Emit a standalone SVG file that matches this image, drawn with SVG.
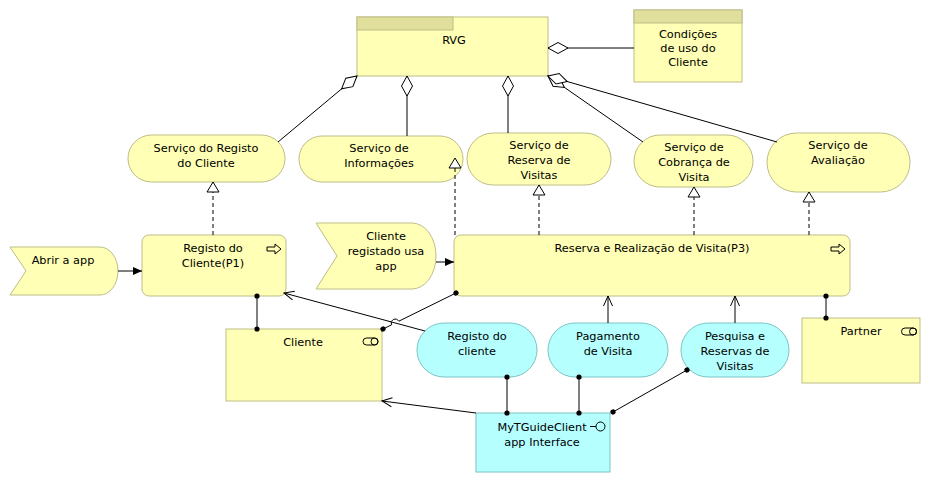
<svg xmlns="http://www.w3.org/2000/svg" width="931" height="483" viewBox="0 0 931 483">
<style>
  .biz { fill: #ffffb5; stroke: #bdbd88; stroke-width: 1; }
  .tab { fill: #e0e09c; stroke: #bdbd88; stroke-width: 1; }
  .app { fill: #b5ffff; stroke: #7cc4c4; stroke-width: 1; }
  text { font-family: "DejaVu Sans", "Liberation Sans", sans-serif; font-size: 11.3px; fill: #000; text-anchor: middle; }
  .icon { fill: none; stroke: #000; stroke-width: 1; }
  .ln { fill: none; stroke: #000; stroke-width: 1; }
  .dash { stroke-dasharray: 4 3; }
  .agg { marker-start: url(#diamond); }
  .real { marker-end: url(#hollowTri); }
  .trig { marker-end: url(#filledArrow); }
  .open { marker-end: url(#openArrow); }
  .dots { marker-start: url(#dot); marker-end: url(#dot); }
</style>
<defs>
  <marker id="diamond" markerUnits="userSpaceOnUse" markerWidth="22" markerHeight="13" refX="1" refY="6" orient="auto" overflow="visible">
    <path d="M1,6 L11,0.5 L21,6 L11,11.5 Z" fill="#fff" stroke="#000" stroke-width="1"/>
  </marker>
  <marker id="hollowTri" markerUnits="userSpaceOnUse" markerWidth="12" markerHeight="14" refX="11" refY="7" orient="auto" overflow="visible">
    <path d="M1,1 L11,7 L1,13 Z" fill="#fff" stroke="#000" stroke-width="1"/>
  </marker>
  <marker id="filledArrow" markerUnits="userSpaceOnUse" markerWidth="10" markerHeight="10" refX="9" refY="5" orient="auto" overflow="visible">
    <path d="M0,1 L9,5 L0,9 Z" fill="#000"/>
  </marker>
  <marker id="openArrow" markerUnits="userSpaceOnUse" markerWidth="12" markerHeight="10" refX="10" refY="5" orient="auto" overflow="visible">
    <path d="M0,0.5 L10,5 L0,9.5" fill="none" stroke="#000" stroke-width="1"/>
  </marker>
  <marker id="dot" markerUnits="userSpaceOnUse" markerWidth="6" markerHeight="6" refX="3" refY="3" orient="auto" overflow="visible">
    <circle cx="3" cy="3" r="2.6" fill="#000"/>
  </marker>
</defs>

<g id="rvg">
  <rect class="biz" x="357" y="17" width="191" height="59"/>
  <rect class="tab" x="357" y="17" width="96" height="13"/>
  <text x="454" y="44">RVG</text>
</g>

<g id="condicoes">
  <rect class="biz" x="634" y="10" width="108" height="72"/>
  <rect class="tab" x="634" y="10" width="108" height="13"/>
  <text x="688" y="38">Condições</text>
  <text x="688" y="52">de uso do</text>
  <text x="688" y="66">Cliente</text>
</g>

<g id="svc-registo">
  <rect class="biz" x="128" y="135" width="157" height="47" rx="23.5"/>
  <text x="206" y="152">Serviço do Registo</text>
  <text x="206" y="167">do Cliente</text>
</g>

<g id="svc-informacoes">
  <rect class="biz" x="299" y="136" width="164" height="46" rx="23"/>
  <text x="379" y="152">Serviço de</text>
  <text x="379" y="167">Informações</text>
</g>

<g id="svc-reserva">
  <rect class="biz" x="467" y="133" width="144" height="52" rx="26"/>
  <text x="539" y="149">Serviço de</text>
  <text x="539" y="164">Reserva de</text>
  <text x="539" y="179">Visitas</text>
</g>

<g id="svc-cobranca">
  <rect class="biz" x="634" y="135" width="119" height="52" rx="26"/>
  <text x="694" y="151">Serviço de</text>
  <text x="694" y="166">Cobrança de</text>
  <text x="694" y="181">Visita</text>
</g>

<g id="svc-avaliacao">
  <rect class="biz" x="767" y="133" width="143" height="59" rx="29.5"/>
  <text x="838" y="149">Serviço de</text>
  <text x="838" y="164">Avaliação</text>
</g>

<g id="evt-abrir">
  <path class="biz" d="M10,247 L100,247 A18,24 0 0 1 118,271 A18,24 0 0 1 100,295 L10,295 L26,271 Z"/>
  <text x="63" y="264">Abrir a app</text>
</g>

<g id="proc-p1">
  <rect class="biz" x="142" y="235" width="144" height="61" rx="7"/>
  <text x="213" y="252">Registo do</text>
  <text x="213" y="267">Cliente(P1)</text>
  <path class="icon" d="M267,247 L275,247 L275,244 L281,249 L275,254 L275,251 L267,251 Z"/>
</g>

<g id="evt-registado">
  <path class="biz" d="M316,223 L412,223 A24,33 0 0 1 436,256 A24,33 0 0 1 412,289 L316,289 L337,256 Z"/>
  <text x="386" y="240">Cliente</text>
  <text x="386" y="255">registado usa</text>
  <text x="386" y="270">app</text>
</g>

<g id="proc-p3">
  <rect class="biz" x="454" y="235" width="396" height="61" rx="7"/>
  <text x="652" y="252">Reserva e Realização de Visita(P3)</text>
  <path class="icon" d="M831,247 L839,247 L839,244 L845,249 L839,254 L839,251 L831,251 Z"/>
</g>

<g id="role-cliente">
  <rect class="biz" x="226" y="329" width="156" height="72"/>
  <text x="303" y="346">Cliente</text>
  <path class="icon" d="M366.5,338 L374.5,338 A3.5,3.5 0 0 1 374.5,345 L366.5,345 A3.5,3.5 0 0 1 366.5,338 Z"/>
  <circle class="icon" cx="374.5" cy="341.5" r="3.5"/>
</g>

<g id="role-partner">
  <rect class="biz" x="802" y="318" width="118" height="65"/>
  <text x="861" y="335">Partner</text>
  <path class="icon" d="M905,328 L913,328 A3.5,3.5 0 0 1 913,335 L905,335 A3.5,3.5 0 0 1 905,328 Z"/>
  <circle class="icon" cx="913" cy="331.5" r="3.5"/>
</g>

<g id="app-registo">
  <rect class="app" x="417" y="323" width="120" height="54" rx="27"/>
  <text x="477" y="340">Registo do</text>
  <text x="477" y="355">cliente</text>
</g>

<g id="app-pagamento">
  <rect class="app" x="548" y="323" width="120" height="54" rx="27"/>
  <text x="608" y="340">Pagamento</text>
  <text x="608" y="355">de Visita</text>
</g>

<g id="app-pesquisa">
  <rect class="app" x="681" y="323" width="108" height="54" rx="27"/>
  <text x="735" y="340">Pesquisa e</text>
  <text x="735" y="355">Reservas de</text>
  <text x="735" y="370">Visitas</text>
</g>

<g id="app-interface">
  <rect class="app" x="476" y="413" width="134" height="59"/>
  <text x="542" y="431">MyTGuideClient</text>
  <text x="542" y="446">app Interface</text>
  <line class="icon" x1="590" y1="426.5" x2="596" y2="426.5"/>
  <circle class="icon" cx="600.5" cy="426.5" r="4.5"/>
</g>

<g id="connectors">
  <!-- aggregation from RVG -->
  <line class="ln agg" x1="548" y1="48" x2="634" y2="48"/>
  <line class="ln agg" x1="357" y1="76" x2="278" y2="142"/>
  <line class="ln agg" x1="407" y1="76" x2="407" y2="136"/>
  <line class="ln agg" x1="508" y1="76" x2="508" y2="133"/>
  <line class="ln agg" x1="548" y1="76" x2="643" y2="142"/>
  <line class="ln agg" x1="548" y1="76" x2="777" y2="142"/>
  <!-- realization -->
  <line class="ln dash real" x1="213" y1="235" x2="213" y2="182"/>
  <line class="ln dash real" x1="455" y1="235" x2="455" y2="158"/>
  <line class="ln dash real" x1="539" y1="235" x2="539" y2="185"/>
  <line class="ln dash real" x1="694" y1="235" x2="694" y2="187"/>
  <line class="ln dash real" x1="809" y1="235" x2="809" y2="192"/>
  <!-- triggering -->
  <line class="ln trig" x1="118" y1="271" x2="142" y2="271"/>
  <line class="ln trig" x1="436" y1="262" x2="454" y2="262"/>
  <!-- assignment -->
  <line class="ln dots" x1="257" y1="296" x2="257" y2="329"/>
  <path class="ln dots" d="M383,329 L391.6,324.8 A4,4 0 0 1 398.8,321.2 L456,293"/>
  <line class="ln dots" x1="826" y1="296" x2="826" y2="318"/>
  <line class="ln dots" x1="507" y1="413" x2="507" y2="377"/>
  <line class="ln dots" x1="579" y1="413" x2="579" y2="377"/>
  <line class="ln dots" x1="613" y1="412" x2="687" y2="370"/>
  <!-- serving -->
  <line class="ln open" x1="425" y1="331" x2="284" y2="293"/>
  <line class="ln open" x1="608" y1="323" x2="608" y2="296"/>
  <line class="ln open" x1="735" y1="323" x2="735" y2="296"/>
  <line class="ln open" x1="476" y1="413" x2="382" y2="401"/>
</g>
</svg>
